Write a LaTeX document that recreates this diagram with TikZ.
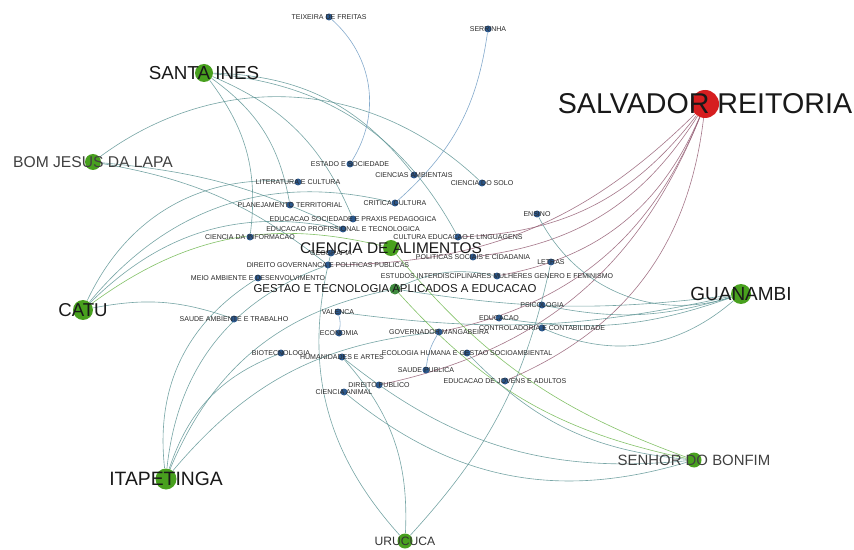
\documentclass[tikz,border=0pt]{standalone}
\usepackage{fontspec}
\setmainfont{Liberation Sans}
\usetikzlibrary{backgrounds}

\definecolor{nblue}{RGB}{44,88,140}
\definecolor{ngreen}{RGB}{72,160,30}
\definecolor{nred}{RGB}{214,30,32}
\definecolor{eteal}{RGB}{96,150,150}
\definecolor{eblue}{RGB}{112,156,196}
\definecolor{egreen}{RGB}{112,184,80}
\definecolor{emauve}{RGB}{150,96,118}
\definecolor{lgray}{RGB}{40,40,40}

\begin{document}
\begin{tikzpicture}[x=0.02cm, y=-0.02cm,
        course/.style={circle, fill=nblue, inner sep=0pt, minimum size=0.14cm,
            label={[text=lgray, inner sep=0pt, font=\fontsize{4}{4}\selectfont]center:#1}},
        campus/.style={circle, fill=ngreen, inner sep=0pt},
        biglbl/.style={text=black!90, inner sep=0pt},
        tedge/.style={eteal, line width=0.35pt, opacity=0.85},
        bedge/.style={eblue, line width=0.35pt, opacity=0.85},
        gedge/.style={egreen, line width=0.35pt, opacity=0.85},
        redge/.style={emauve, line width=0.35pt, opacity=0.85},
    ]
        \useasboundingbox (0,0) rectangle (854,550);

        % campi and programmes
        \node[circle, fill=nred, inner sep=0pt, minimum size=0.56cm,
            label={[biglbl, font=\fontsize{16.3}{17}\selectfont]center:SALVADOR REITORIA}] (salvador) at (705,104) {};
        \node[campus, minimum size=0.36cm, label={[biglbl, font=\fontsize{10.7}{11}\selectfont]center:SANTA INES}] (santaines) at (204,73) {};
        \node[campus, minimum size=0.32cm, label={[biglbl, text=black!75, font=\fontsize{8.9}{9}\selectfont]center:BOM JESUS DA LAPA}] (bomjesus) at (93,162) {};
        \node[campus, minimum size=0.40cm, label={[biglbl, font=\fontsize{10.6}{11}\selectfont]center:CATU}] (catu) at (83,310) {};
        \node[campus, minimum size=0.42cm, label={[biglbl, font=\fontsize{11}{11}\selectfont]center:ITAPETINGA}] (itapetinga) at (166,479) {};
        \node[campus, minimum size=0.30cm, label={[biglbl, text=black!80, font=\fontsize{6.9}{7}\selectfont]center:URUCUCA}] (urucuca) at (405,541) {};
        \node[campus, minimum size=0.30cm, label={[biglbl, text=black!75, font=\fontsize{8.5}{9}\selectfont]center:SENHOR DO BONFIM}] (bonfim) at (694,460) {};
        \node[campus, minimum size=0.40cm, label={[biglbl, font=\fontsize{10.8}{11}\selectfont]center:GUANAMBI}] (guanambi) at (741,294) {};
        \node[campus, minimum size=0.32cm, label={[biglbl, font=\fontsize{8.8}{9}\selectfont]center:CIENCIA DE ALIMENTOS}] (alimentos) at (391,248) {};
        \node[campus, fill=ngreen!70!nblue, minimum size=0.22cm, label={[biglbl, font=\fontsize{6.5}{7}\selectfont]center:GESTAO E TECNOLOGIA APLICADOS A EDUCACAO}] (gestao) at (395,289) {};

        % study areas
        \node[course=TEIXEIRA DE FREITAS] (teixeira) at (329,17) {};
        \node[course=SERRINHA] (serrinha) at (488,29) {};
        \node[course=ESTADO E SOCIEDADE] (estado) at (350,164) {};
        \node[course=CIENCIAS AMBIENTAIS] (ambientais) at (414,175) {};
        \node[course=CIENCIA DO SOLO] (solo) at (482,183) {};
        \node[course=LITERATURA E CULTURA] (literatura) at (298,182) {};
        \node[course=CRITICA CULTURA] (critica) at (395,203) {};
        \node[course=PLANEJAMENTO TERRITORIAL] (planejamento) at (290,205) {};
        \node[course=ENSINO] (ensino) at (537,214) {};
        \node[course=EDUCACAO SOCIEDADE E PRAXIS PEDAGOGICA] (praxis) at (353,219) {};
        \node[course=EDUCACAO PROFISSIONAL E TECNOLOGICA] (profissional) at (343,229) {};
        \node[course=CULTURA EDUCACAO E LINGUAGENS] (cultura) at (458,237) {};
        \node[course=CIENCIA DA INFORMACAO] (informacao) at (250,237) {};
        \node[course=GEOGRAFIA] (geografia) at (331,253) {};
        \node[course=POLITICAS SOCIAIS E CIDADANIA] (politicas) at (473,257) {};
        \node[course=LETRAS] (letras) at (551,262) {};
        \node[course=DIREITO GOVERNANCA E POLITICAS PUBLICAS] (direitogov) at (328,265) {};
        \node[course=ESTUDOS INTERDISCIPLINARES MULHERES GENERO E FEMINISMO] (estudos) at (497,276) {};
        \node[course=MEIO AMBIENTE E DESENVOLVIMENTO] (meioamb) at (258,278) {};
        \node[course=PSICOLOGIA] (psicologia) at (542,305) {};
        \node[course=VALENCA] (valenca) at (338,312) {};
        \node[course=EDUCACAO] (educacao) at (499,318) {};
        \node[course=SAUDE AMBIENTE E TRABALHO] (saudeamb) at (234,319) {};
        \node[course=CONTROLADORIA E CONTABILIDADE] (controladoria) at (542,328) {};
        \node[course=GOVERNADOR MANGABEIRA] (mangabeira) at (439,332) {};
        \node[course=ECONOMIA] (economia) at (339,333) {};
        \node[course=BIOTECNOLOGIA] (biotec) at (281,353) {};
        \node[course=ECOLOGIA HUMANA E GESTAO SOCIOAMBIENTAL] (ecologia) at (467,353) {};
        \node[course=HUMANIDADES E ARTES] (humanidades) at (342,357) {};
        \node[course=SAUDE PUBLICA] (saudepub) at (426,370) {};
        \node[course=EDUCACAO DE JOVENS E ADULTOS] (jovens) at (505,381) {};
        \node[course=DIREITO PUBLICO] (direitopub) at (379,385) {};
        \node[course=CIENCIA ANIMAL] (animal) at (344,392) {};

        \begin{scope}[on background layer]
            % reitoria
            \draw[redge] (salvador) to[bend left=25] (cultura);
            \draw[redge] (salvador) to[bend left=25] (politicas);
            \draw[redge] (salvador) to[bend left=22] (direitogov);
            \draw[redge] (salvador) to[bend left=28] (estudos);
            \draw[redge] (salvador) to[bend left=28] (mangabeira);
            \draw[redge] (salvador) to[bend left=28] (direitopub);
            \draw[redge] (salvador) to[bend left=30] (jovens);
            % santa ines
            \draw[tedge] (santaines) to[bend left=22] (informacao);
            \draw[tedge] (santaines) to[bend left=22] (planejamento);
            \draw[tedge] (santaines) to[bend left=22] (praxis);
            \draw[tedge] (santaines) to[bend left=25] (ambientais);
            \draw[tedge] (santaines) to[bend left=28] (cultura);
            % bom jesus da lapa
            \draw[tedge] (bomjesus) to[bend left=40] (solo);
            \draw[tedge] (bomjesus) to[bend left=10] (profissional);
            \draw[tedge] (bomjesus) to[bend left=14] (direitogov);
            % catu
            \draw[tedge] (catu) to[bend left=35] (literatura);
            \draw[tedge] (catu) to[bend left=32] (critica);
            \draw[tedge] (catu) to[bend left=28] (profissional);
            \draw[gedge] (catu) to[bend left=25] (alimentos);
            \draw[tedge] (catu) to[bend left=15] (saudeamb);
            % itapetinga
            \draw[tedge] (itapetinga) to[bend left=32] (direitogov);
            \draw[tedge] (itapetinga) to[bend left=32] (meioamb);
            \draw[tedge] (itapetinga) to[bend left=28] (gestao);
            \draw[tedge] (itapetinga) to[bend left=25] (biotec);
            \draw[tedge] (itapetinga) to[bend left=22] (mangabeira);
            % urucuca
            \draw[tedge] (urucuca) to[bend left=28] (geografia);
            \draw[tedge] (urucuca) to[bend right=15] (letras);
            % guanambi
            \draw[tedge] (guanambi) to[bend left=40] (ensino);
            \draw[tedge] (guanambi) to[bend left=8] (gestao);
            \draw[tedge] (guanambi) to[bend left=14] (psicologia);
            \draw[tedge] (guanambi) to[bend left=14] (educacao);
            \draw[tedge] (guanambi) to[bend left=10] (valenca);
            \draw[tedge] (guanambi) to[bend left=32] (controladoria);
            % senhor do bonfim
            \draw[gedge] (bonfim) to[bend left=18] (gestao);
            \draw[gedge] (bonfim) to[bend left=15] (alimentos);
            \draw[tedge] (bonfim) to[bend left=20] (ecologia);
            \draw[tedge] (bonfim) to[bend left=28] (animal);
            \draw[tedge] (bonfim) to[bend left=22] (humanidades);
            % between areas
            \draw[bedge] (teixeira) to[bend left=40] (estado);
            \draw[bedge] (serrinha) to[bend left=20] (critica);
            \draw[bedge] (mangabeira) to[bend right=12] (saudepub);
            \draw[bedge] (valenca) to[bend left=12] (economia);
            \draw[tedge] (gestao) to[bend left=18] (estudos);
            \draw[tedge] (urucuca) to[bend right=22] (humanidades);
        \end{scope}
\end{tikzpicture}
\end{document}
